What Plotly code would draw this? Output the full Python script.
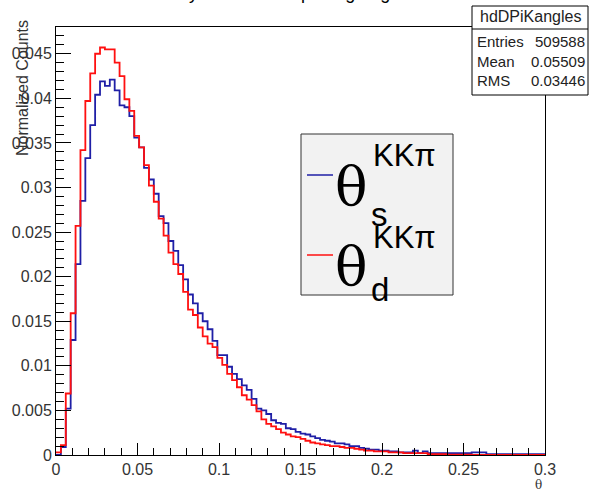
import numpy as np
import plotly.graph_objects as go

# ---------------- data ----------------
x_min, x_max, n_bins = 0.0, 0.3, 100

theta_d = [  # red
    0.0003, 0.0011, 0.0069, 0.0159, 0.0257, 0.0342, 0.0397, 0.0428, 0.0450, 0.0457,
    0.0455, 0.0455, 0.0440, 0.0425, 0.0399, 0.0386, 0.0358, 0.0345, 0.0325, 0.0302,
    0.0284, 0.0265, 0.0246, 0.0227, 0.0214, 0.0203, 0.0183, 0.0163, 0.0157, 0.0143,
    0.0133, 0.0125, 0.0121, 0.0109, 0.0101, 0.0091, 0.0084, 0.0076, 0.0067, 0.0062,
    0.0056, 0.0049, 0.0040, 0.0035, 0.0032, 0.0029, 0.0025, 0.0023, 0.0021, 0.0020,
    0.0018, 0.0016, 0.0014, 0.0013, 0.0012, 0.0011, 0.0010, 0.0010, 0.0009, 0.0008,
    0.0008, 0.0007, 0.0006, 0.0005, 0.0005, 0.0004, 0.0004, 0.0004, 0.0003, 0.0003,
    0.0003, 0.0002, 0.0002, 0.0002, 0.0002, 0.0002, 0.0001, 0.0001, 0.0001, 0.0001,
    0.00005, 0.00005, 0.00005, 0.00005, 0.00005, 0.0, 0.0, 0.0, 0.0, 0.0,
    0.0, 0.0, 0.0, 0.0, 0.0, 0.0, 0.0, 0.0, 0.0, 0.0,
]
theta_s = [  # blue
    0.0000, 0.0009, 0.0052, 0.0129, 0.0214, 0.0285, 0.0333, 0.0370, 0.0404, 0.0419,
    0.0414, 0.0421, 0.0409, 0.0392, 0.0390, 0.0380, 0.0356, 0.0345, 0.0322, 0.0309,
    0.0293, 0.0268, 0.0260, 0.0240, 0.0229, 0.0213, 0.0197, 0.0180, 0.0170, 0.0159,
    0.0150, 0.0141, 0.0128, 0.0112, 0.0112, 0.0099, 0.0091, 0.0085, 0.0078, 0.0073,
    0.0063, 0.0052, 0.0050, 0.0046, 0.0039, 0.0036, 0.0035, 0.0030, 0.0029, 0.0026,
    0.0024, 0.0023, 0.0021, 0.0019, 0.0017, 0.0016, 0.0015, 0.0013, 0.0013, 0.0012,
    0.0010, 0.0010, 0.0008, 0.0007, 0.0006, 0.0006, 0.0005, 0.0005, 0.0004, 0.0004,
    0.0003, 0.0003, 0.0003, 0.0005, 0.0002, 0.0004, 0.0002, 0.0002, 0.0002, 0.0002,
    0.0002, 0.0002, 0.0002, 0.0002, 0.0002, 0.0003, 0.0003, 0.0003, 0.0001, 0.0001,
    0.0001, 0.0001, 0.0001, 0.0001, 0.0001, 0.0001, 0.0001, 0.0001, 0.0001, 0.0001,
]
x_ticks = [0, 0.05, 0.1, 0.15, 0.2, 0.25, 0.3]
x_tick_text = ["0", "0.05", "0.1", "0.15", "0.2", "0.25", "0.3"]
y_ticks = [0, 0.005, 0.01, 0.015, 0.02, 0.025, 0.03, 0.035, 0.04, 0.045]
y_tick_text = ["0", "0.005", "0.01", "0.015", "0.02", "0.025", "0.03", "0.035", "0.04", "0.045"]
stats_name = "hdDPiKangles"
stats_rows = [("Entries", "509588"), ("Mean", "0.05509"), ("RMS", "0.03446")]
title_text = "Decay Pion Kaon opening angles"

# ---------------- geometry ----------------
W, H = 593, 491
L, R, T, B = 56, 545, 27, 455


def px(x):
    return (x - L) / (R - L)


def py(y):
    return (B - y) / (B - T)


edges = np.linspace(x_min, x_max, n_bins + 1)

BLUE = "#1f1fa6"
RED = "#ff1010"
SANS = "Liberation Sans, Arial, sans-serif"
SERIF = "DejaVu Serif, Liberation Serif, serif"

fig = go.Figure()
for vals, col, name in [(theta_s, BLUE, "θs KKπ"), (theta_d, RED, "θd KKπ")]:
    v = list(vals) + [vals[-1]]
    fig.add_trace(go.Scatter(x=edges, y=v, mode="lines", line=dict(color=col, width=1.8, shape="hv"),
                             name=name, showlegend=False, hoverinfo="skip"))

fig.update_layout(
    width=W, height=H,
    margin=dict(l=L, r=W - R, t=T, b=H - B),
    paper_bgcolor="white", plot_bgcolor="white",
    font=dict(family=SANS, size=16, color="#333333"),
)
fig.update_xaxes(range=[x_min, x_max], tickvals=x_ticks, ticktext=x_tick_text,
                 ticks="inside", ticklen=12, tickwidth=1, tickcolor="black",
                 minor=dict(dtick=0.01, ticks="inside", ticklen=7, tickcolor="black", showgrid=False),
                 showline=True, linecolor="black", linewidth=1, mirror=True,
                 showgrid=False, zeroline=False, tickfont=dict(size=16))
fig.update_yaxes(range=[0, 0.048], tickvals=y_ticks, ticktext=y_tick_text,
                 ticks="inside", ticklen=15, tickwidth=1, tickcolor="black",
                 minor=dict(dtick=0.001, ticks="inside", ticklen=8, tickcolor="black", showgrid=False),
                 showline=True, linecolor="black", linewidth=1, mirror=True,
                 showgrid=False, zeroline=False, tickfont=dict(size=16))

shapes = []
ann = []

# title (mostly cut off at top in the reference)
ann.append(dict(text=title_text, x=px(280), y=py(5), xref="paper", yref="paper",
                xanchor="center", yanchor="bottom", showarrow=False,
                font=dict(family=SANS, size=18, color="black")))

# axis titles
ann.append(dict(text="Normalized Counts", x=px(22), y=py(88), xref="paper", yref="paper",
                xanchor="center", yanchor="middle", textangle=-90, showarrow=False,
                font=dict(family=SANS, size=16, color="#333333")))
ann.append(dict(text="θ", x=px(538), y=py(485), xref="paper", yref="paper",
                xanchor="center", yanchor="middle", showarrow=False,
                font=dict(family=SERIF, size=12, color="#333333")))

# stats box
shapes.append(dict(type="rect", xref="paper", yref="paper", x0=px(472), x1=px(588), y0=py(95), y1=py(6),
                   line=dict(color="black", width=1), fillcolor="white", layer="above"))
shapes.append(dict(type="line", xref="paper", yref="paper", x0=px(472), x1=px(588), y0=py(29), y1=py(29),
                   line=dict(color="black", width=1), layer="above"))
ann.append(dict(text=stats_name, x=px(530), y=py(17), xref="paper", yref="paper",
                xanchor="center", yanchor="middle", showarrow=False,
                font=dict(family=SANS, size=16, color="#222222")))
for i, (k, v) in enumerate(stats_rows):
    yy = [42, 62, 81][i]
    ann.append(dict(text=k, x=px(475), y=py(yy), xref="paper", yref="paper",
                    xanchor="left", yanchor="middle", showarrow=False,
                    font=dict(family=SANS, size=15, color="#222222")))
    ann.append(dict(text=v, x=px(587), y=py(yy), xref="paper", yref="paper",
                    xanchor="right", yanchor="middle", showarrow=False,
                    font=dict(family=SANS, size=15, color="#222222")))

# legend box
shapes.append(dict(type="rect", xref="paper", yref="paper", x0=px(301), x1=px(453), y0=py(295), y1=py(134),
                   line=dict(color="#333333", width=1), fillcolor="#f2f2f2", layer="above"))
legend_entries = [(BLUE, 175, 186, 156, 214, "s"), (RED, 255, 266, 237, 290, "d")]
for col, ly, ty, sy, by, sub in legend_entries:
    shapes.append(dict(type="line", xref="paper", yref="paper", x0=px(307), x1=px(333), y0=py(ly), y1=py(ly),
                       line=dict(color=col, width=1.5), layer="above"))
    ann.append(dict(text="θ", x=px(351), y=py(ty), xref="paper", yref="paper",
                    xanchor="center", yanchor="middle", showarrow=False,
                    font=dict(family=SERIF, size=54, color="black")))
    ann.append(dict(text="KKπ", x=px(371), y=py(sy), xref="paper", yref="paper",
                    xanchor="left", yanchor="middle", showarrow=False,
                    font=dict(family=SANS, size=31, color="black")))
    ann.append(dict(text=sub, x=px(369), y=py(by), xref="paper", yref="paper",
                    xanchor="left", yanchor="middle", showarrow=False,
                    font=dict(family=SANS, size=33, color="black")))

fig.update_layout(shapes=shapes, annotations=ann)
fig.write_html("out.html")
